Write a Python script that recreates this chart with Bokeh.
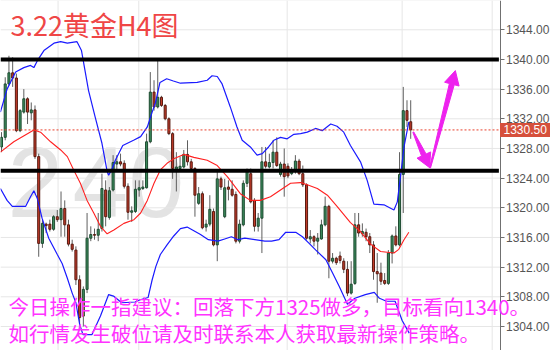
import math
from bokeh.plotting import figure
from bokeh.models import (ColumnDataSource, Range1d, FixedTicker, PrintfTickFormatter,
                          Label, BoxAnnotation)
from bokeh.embed import file_html
from bokeh.resources import INLINE

# ---------------- data ----------------
OPEN = [1328.2, 1329.5, 1336.7, 1338.2, 1337.5, 1330.4, 1332.9, 1334.7, 1332.8, 1333.2,
        1326.9, 1315.2, 1317.8, 1317.8, 1317.1, 1318.8, 1318.4, 1319.9, 1317.7, 1315.1,
        1314.3, 1310.3, 1305.4, 1309.0, 1315.9, 1316.4, 1316.3, 1317.2, 1322.4, 1318.7,
        1322.4, 1325.9, 1326.2, 1326.0, 1322.9, 1319.4, 1319.5, 1322.4, 1322.6, 1322.7,
        1328.9, 1335.6, 1333.6, 1334.9, 1333.8, 1332.0, 1330.0, 1325.2, 1325.3, 1325.5,
        1327.2, 1326.2, 1325.3, 1320.6, 1321.9, 1317.4, 1317.8, 1319.5, 1315.0, 1323.9,
        1318.8, 1322.8, 1322.5, 1321.8, 1315.5, 1317.7, 1323.3, 1324.6, 1321.0, 1317.5,
        1318.6, 1326.2, 1325.5, 1326.1, 1327.5, 1324.5, 1325.9, 1325.6, 1324.6, 1324.9,
        1326.3, 1324.6, 1323.1, 1315.8, 1316.1, 1315.5, 1315.8, 1317.7, 1320.2, 1312.8,
        1313.2, 1313.5, 1312.8, 1311.7, 1308.5, 1309.8, 1317.7, 1316.5, 1316.7, 1316.1,
        1315.0, 1311.4, 1311.2, 1310.2, 1309.8, 1313.9, 1316.2, 1315.0, 1324.5, 1333.1,
        1331.6]
HIGH = [1330.2, 1337.6, 1340.5, 1340.3, 1338.1, 1333.3, 1336.0, 1334.9, 1334.2, 1333.8,
        1327.3, 1318.4, 1318.0, 1318.4, 1319.0, 1319.7, 1322.2, 1321.0, 1318.4, 1315.7,
        1314.8, 1310.9, 1309.4, 1319.3, 1317.5, 1317.2, 1319.3, 1324.6, 1323.7, 1322.8,
        1327.1, 1327.1, 1327.3, 1326.4, 1323.3, 1320.2, 1323.7, 1323.7, 1323.7, 1330.0,
        1338.3, 1337.2, 1340.1, 1335.1, 1334.0, 1332.2, 1330.2, 1327.5, 1326.9, 1327.8,
        1329.1, 1326.6, 1325.5, 1322.8, 1322.2, 1318.4, 1321.7, 1319.9, 1324.9, 1324.2,
        1323.9, 1323.7, 1323.7, 1322.2, 1318.4, 1323.7, 1325.3, 1325.3, 1321.3, 1319.3,
        1328.2, 1328.2, 1327.3, 1329.1, 1329.5, 1326.2, 1328.0, 1326.0, 1325.5, 1327.1,
        1326.6, 1325.7, 1323.3, 1317.0, 1316.3, 1316.6, 1318.4, 1321.5, 1320.4, 1313.9,
        1313.4, 1314.1, 1313.2, 1312.8, 1312.8, 1319.3, 1319.3, 1317.9, 1317.2, 1316.6,
        1315.5, 1313.9, 1312.6, 1311.2, 1314.3, 1316.4, 1317.5, 1327.5, 1336.3, 1334.5,
        1334.5]
LOW = [1327.5, 1329.1, 1336.5, 1336.3, 1330.2, 1330.2, 1332.7, 1331.3, 1331.8, 1326.6,
       1313.4, 1314.6, 1316.6, 1316.8, 1316.9, 1318.1, 1316.1, 1316.1, 1314.8, 1314.1,
       1309.6, 1304.3, 1304.0, 1308.5, 1315.5, 1315.7, 1315.5, 1316.8, 1317.5, 1318.4,
       1322.2, 1324.9, 1325.6, 1322.6, 1318.4, 1318.1, 1319.3, 1321.5, 1322.4, 1322.6,
       1328.7, 1333.1, 1333.4, 1333.6, 1331.8, 1329.8, 1323.9, 1322.2, 1324.9, 1325.3,
       1325.7, 1325.1, 1318.8, 1320.4, 1317.1, 1316.8, 1317.5, 1314.8, 1312.8, 1322.4,
       1318.6, 1321.0, 1321.5, 1315.2, 1315.2, 1317.5, 1322.8, 1320.6, 1316.8, 1316.8,
       1313.9, 1325.3, 1325.3, 1325.3, 1325.5, 1324.2, 1321.5, 1324.0, 1324.4, 1324.6,
       1324.4, 1322.8, 1315.7, 1315.2, 1314.8, 1313.7, 1315.7, 1317.5, 1310.5, 1312.5,
       1312.3, 1312.5, 1311.2, 1308.1, 1308.3, 1309.6, 1316.1, 1316.1, 1315.5, 1313.9,
       1310.3, 1307.2, 1309.6, 1309.6, 1309.6, 1312.5, 1314.8, 1314.8, 1319.3, 1330.9,
       1329.3]
CLOSE = [1329.5, 1336.7, 1338.2, 1337.5, 1330.4, 1333.1, 1334.7, 1332.9, 1333.2, 1326.9,
         1315.2, 1317.9, 1317.6, 1317.1, 1318.8, 1318.4, 1319.9, 1317.7, 1315.1, 1314.4,
         1310.3, 1305.2, 1309.0, 1315.9, 1316.4, 1316.3, 1317.1, 1322.6, 1318.8, 1322.3,
         1326.1, 1326.2, 1325.9, 1322.9, 1319.4, 1319.6, 1322.5, 1322.7, 1322.8, 1328.9,
         1335.6, 1333.6, 1334.9, 1333.8, 1332.0, 1330.0, 1325.3, 1325.5, 1325.6, 1327.2,
         1326.2, 1325.3, 1321.7, 1321.9, 1317.3, 1317.8, 1319.8, 1315.0, 1323.9, 1322.8,
         1322.7, 1322.5, 1321.7, 1315.5, 1317.8, 1323.3, 1324.9, 1320.8, 1317.5, 1318.6,
         1326.2, 1325.6, 1326.1, 1327.5, 1325.7, 1325.9, 1324.2, 1324.3, 1325.1, 1326.3,
         1324.6, 1323.1, 1315.9, 1316.1, 1315.5, 1315.9, 1317.7, 1320.2, 1312.8, 1313.2,
         1312.6, 1312.9, 1311.7, 1308.5, 1309.7, 1317.7, 1316.6, 1316.8, 1316.1, 1315.0,
         1311.4, 1311.1, 1310.1, 1309.8, 1313.9, 1316.2, 1315.0, 1324.5, 1333.1, 1331.8,
         1330.5]

# Bollinger bands, read as (bar index, price) vertices
UB_X = [-0.3, 1.5, 3.8, 6, 7.8, 8.7, 9.6, 11.4, 14.1, 15.9, 17.7, 20.3, 21.5, 23.4, 25.2,
        27, 28.4, 28.8, 29.6, 30.6, 32.6, 35.5, 37.4, 39.2, 40.5, 41.4, 42.6, 44.4, 46.2,
        48.1, 52.6, 55.3, 56.6, 58, 59.3, 61.5, 63.3, 64.7, 66.9, 68.7, 70.1, 71.8, 73.2,
        75, 76.8, 78.6, 80.4, 82.2, 84.4, 86.2, 88.5, 90.2, 92, 93.8, 96.5, 98.3, 100.1,
        102.8, 105.5, 106.4, 107.3, 108.2, 109.5]
UB_Y = [1332.9, 1336.0, 1338.3, 1338.9, 1339.2, 1338.9, 1339.8, 1341.2, 1342.2, 1342.4,
        1342.2, 1342.4, 1341.2, 1335.8, 1332.2, 1328.7, 1324.9, 1324.4, 1325.1, 1326.4,
        1328.4, 1329.1, 1329.6, 1330.9, 1332.9, 1334.2, 1336.9, 1337.4, 1337.1, 1336.8,
        1336.9, 1337.2, 1337.8, 1337.7, 1336.7, 1333.6, 1330.9, 1329.1, 1328.2, 1327.1,
        1327.3, 1328.2, 1329.1, 1329.5, 1329.3, 1329.9, 1330.0, 1330.2, 1330.7, 1330.4,
        1331.3, 1331.0, 1330.2, 1328.4, 1326.2, 1323.7, 1320.5, 1320.4, 1319.7, 1320.8,
        1324.4, 1328.2, 1331.6]
MB_X = [-0.3, 3.3, 8.7, 10.5, 13.2, 15.9, 17.7, 19.4, 21.2, 23, 24.8, 26.6, 28.4, 30.2,
        32.9, 35.6, 37.4, 39.2, 41, 42.7, 44.5, 46.3, 49, 51.7, 55.3, 58, 60.7, 64.2, 66.9,
        69.6, 72.3, 75, 77.7, 80.4, 82.2, 84.9, 87.6, 90.2, 93.8, 96.5, 99.2, 101.9,
        105.5, 106.8, 108.2, 109.5]
MB_Y = [1327.5, 1328.9, 1330.5, 1330.2, 1328.9, 1327.8, 1326.9, 1325.1, 1323.3, 1321.0,
        1319.3, 1317.5, 1316.5, 1317.0, 1317.9, 1318.4, 1319.3, 1321.0, 1323.3, 1325.1,
        1326.0, 1326.6, 1327.2, 1326.8, 1326.4, 1325.7, 1324.2, 1321.9, 1321.0, 1321.0,
        1321.5, 1322.4, 1323.3, 1323.4, 1323.1, 1322.6, 1321.7, 1320.2, 1318.0, 1316.8,
        1315.1, 1314.1, 1313.9, 1314.4, 1315.7, 1316.7]
LB_X = [-0.3, 1.5, 2.9, 5.1, 6.5, 7.8, 8.7, 9.6, 10.9, 12.7, 15, 16.3, 17.7, 19, 20, 21,
        21.9, 24.3, 26.6, 28.8, 30.1, 32.3, 35.9, 37.3, 39.4, 40.5, 41.5, 42.7, 44.5, 46.3,
        48.1, 49.9, 51.7, 53.5, 55.6, 58.2, 60, 61.8, 63.6, 65.4, 68.1, 70.8, 72.6, 74.6,
        76.4, 79.1, 80.9, 82.7, 84.5, 87.2, 89, 90.8, 93, 95, 97.8, 100.2, 101.6, 103.5,
        105.8, 107.7, 109.6]
LB_Y = [1322.6, 1321.0, 1320.2, 1320.2, 1320.2, 1321.5, 1322.3, 1321.3, 1318.6, 1315.9,
        1313.7, 1312.5, 1310.5, 1308.5, 1307.2, 1304.3, 1302.9, 1302.9, 1305.4, 1308.3,
        1308.1, 1307.2, 1307.3, 1307.6, 1307.9, 1310.3, 1312.1, 1313.7, 1315.0, 1316.2,
        1317.2, 1317.4, 1316.9, 1316.4, 1315.7, 1315.5, 1315.8, 1316.1, 1315.7, 1315.9,
        1315.7, 1315.5, 1315.5, 1315.7, 1316.7, 1316.7, 1316.1, 1315.2, 1314.3, 1313.0,
        1311.2, 1309.4, 1307.0, 1307.8, 1308.3, 1308.6, 1307.8, 1307.4, 1307.4, 1304.8,
        1303.1]

TICKS = [1304, 1308, 1312, 1316, 1320, 1324, 1328, 1332, 1336, 1340, 1344, 1348]
GRID_X = [15.2, 36.9, 76.8, 107.7, 131.9]
LEVELS = [1340, 1325]
LAST_PRICE = 1330.5
LAST_TEXT = "1330.50"
ARROWS = [((110.7, 1330.2), (115.1, 1325.4)), ((115.2, 1325.4), (122.0, 1338.5))]
TITLE = "3.22黄金H4图"
NOTE_1 = "今日操作一指建议：回落下方1325做多，目标看向1340。"
NOTE_2 = "如行情发生破位请及时联系本人获取最新操作策略。"
WATERMARK = ["2", "4", "0"]

# ---------------- figure ----------------
W, H = 550, 350
PX_PER_BAR = 3.72
X0 = -0.27
X1 = X0 + W / PX_PER_BAR
AXIS_X = X0 + 499.5 / PX_PER_BAR          # price axis sits inside the canvas at x≈499
Y0, Y1 = 1300.76, 1347.95

p = figure(frame_width=W, frame_height=H, x_range=Range1d(X0, X1), y_range=Range1d(Y0, Y1),
           output_backend="svg", toolbar_location=None, x_axis_location=None,
           y_axis_location="right", min_border=0)
p.outline_line_color = None
p.background_fill_color = "white"
p.border_fill_color = "white"
p.grid.visible = False

ax = p.yaxis[0]
ax.fixed_location = AXIS_X
ax.ticker = FixedTicker(ticks=TICKS)
ax.formatter = PrintfTickFormatter(format="%.2f")
ax.major_label_text_font = "Liberation Sans"
ax.major_label_text_font_size = "12px"
ax.major_label_text_color = "#555555"
ax.axis_line_color = "#707070"
ax.major_tick_line_color = "#707070"
ax.major_tick_in = 0
ax.major_tick_out = 4
ax.minor_tick_line_color = None
ax.major_label_standoff = 2

# watermark
for ch, sx in zip(WATERMARK, [7, 72, 128]):
    p.add_layout(Label(x=sx, y=H - 182, x_units="screen", y_units="screen", text=ch,
                       text_font="Liberation Sans", text_font_size="100px",
                       text_color="#e3e3e3", text_baseline="alphabetic", level="underlay"))

# grid lines (stop at the price axis)
p.segment(x0=[X0] * len(TICKS), x1=[AXIS_X] * len(TICKS), y0=TICKS, y1=TICKS,
          line_color="#e6e6e6", line_width=1)
p.segment(x0=GRID_X, x1=GRID_X, y0=[Y0] * len(GRID_X), y1=[Y1] * len(GRID_X),
          line_color="#e6e6e6", line_width=1)

# candles
idx = list(range(len(OPEN)))
up = [c >= o for o, c in zip(OPEN, CLOSE)]
src = ColumnDataSource(dict(
    x=idx, high=HIGH, low=LOW,
    top=[max(o, c) for o, c in zip(OPEN, CLOSE)],
    bottom=[min(o, c) for o, c in zip(OPEN, CLOSE)],
    fill=["#3c8c5c" if u else "#c23b2a" for u in up],
    edge=["#1d4a30" if u else "#571a10" for u in up],
))
p.segment(x0="x", y0="low", x1="x", y1="high", line_color="#5e5e5e", line_width=1, source=src)
p.vbar(x="x", width=0.55, top="top", bottom="bottom", fill_color="fill",
       line_color="edge", line_width=1, source=src)

# Bollinger bands
p.line(UB_X, UB_Y, line_color="#1a1aff", line_width=1.2)
p.line(LB_X, LB_Y, line_color="#1a1aff", line_width=1.2)
p.line(MB_X, MB_Y, line_color="#ff2020", line_width=1.1)

# levels and last price line
p.segment(x0=[X0] * len(LEVELS), x1=[AXIS_X - 0.3] * len(LEVELS), y0=LEVELS, y1=LEVELS,
          line_color="black", line_width=4)
p.segment(x0=[X0], x1=[AXIS_X], y0=[LAST_PRICE], y1=[LAST_PRICE],
          line_color="#e8412c", line_width=1, line_dash="2 2")

# arrows (tapered shaft + head), built in screen pixels then mapped back
SX = W / (X1 - X0)
SY = H / (Y1 - Y0)


def arrow_poly(tail, tip, head_len=14, head_w=15, w0=1.0, w1=5.0):
    tx, ty = (tail[0] - X0) * SX, (tail[1] - Y0) * SY
    hx, hy = (tip[0] - X0) * SX, (tip[1] - Y0) * SY
    L = math.hypot(hx - tx, hy - ty)
    dx, dy = (hx - tx) / L, (hy - ty) / L
    nx, ny = -dy, dx
    bx, by = hx - dx * head_len, hy - dy * head_len
    pts = [(tx + nx * w0 / 2, ty + ny * w0 / 2), (bx + nx * w1 / 2, by + ny * w1 / 2),
           (bx + nx * head_w / 2, by + ny * head_w / 2), (hx, hy),
           (bx - nx * head_w / 2, by - ny * head_w / 2), (bx - nx * w1 / 2, by - ny * w1 / 2),
           (tx - nx * w0 / 2, ty - ny * w0 / 2)]
    return [q[0] / SX + X0 for q in pts], [q[1] / SY + Y0 for q in pts]


for tail, tip in ARROWS:
    xs, ys = arrow_poly(tail, tip)
    p.patch(xs, ys, fill_color="#ee22ee", line_color="#ee22ee", line_width=1)

# price tag on the axis
p.add_layout(BoxAnnotation(left=AXIS_X, right=X1, bottom=LAST_PRICE - 0.95,
                           top=LAST_PRICE + 0.95, fill_color="#d6503c", fill_alpha=1.0,
                           line_color=None))
p.add_layout(Label(x=AXIS_X + 3.5 / PX_PER_BAR, y=LAST_PRICE, text=LAST_TEXT,
                   text_font="Liberation Sans", text_font_size="12px", text_color="white",
                   text_baseline="middle", text_align="left"))

# texts
p.add_layout(Label(x=10, y=H - 23.5, x_units="screen", y_units="screen", text=TITLE,
                   text_font="Noto Sans CJK SC", text_font_size="27px", text_color="#ef4646",
                   text_baseline="middle"))
p.add_layout(Label(x=8, y=H - 305, x_units="screen", y_units="screen", text=NOTE_1,
                   text_font="Noto Sans CJK SC", text_font_size="20.5px", text_color="#ff33ff",
                   text_baseline="middle"))
p.add_layout(Label(x=8, y=H - 332, x_units="screen", y_units="screen", text=NOTE_2,
                   text_font="Noto Sans CJK SC", text_font_size="20.5px", text_color="#ff33ff",
                   text_baseline="middle"))

open("out.html", "w").write(file_html(p, INLINE, "chart"))
